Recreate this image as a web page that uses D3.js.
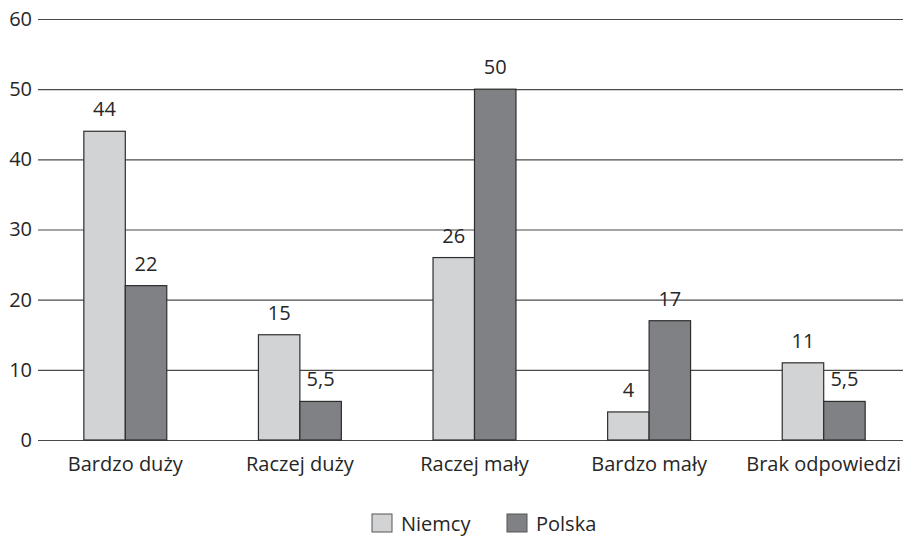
<!DOCTYPE html>
<html>
<head>
<meta charset="utf-8">
<script src="https://cdn.jsdelivr.net/npm/d3@7"></script>
<style>
  html, body { margin: 0; padding: 0; background: #fff; }
  svg { display: block; font-family: "Open Sans", "DejaVu Sans", sans-serif; }
</style>
</head>
<body>
<svg id="chart" width="903" height="537"></svg>
<script>
// Survey answers by category, two countries
const categories = ["Bardzo duży", "Raczej duży", "Raczej mały", "Bardzo mały", "Brak odpowiedzi"];
const seriesNames = ["Niemcy", "Polska"];
const niemcy = [44, 15, 26, 4, 11];
const polska = [22, 5.5, 50, 17, 5.5];
const yTicks = [0, 10, 20, 30, 40, 50, 60];

const colors = { "Niemcy": "#d2d3d5", "Polska": "#808185" };
const fmt = v => String(v).replace(".", ",");
const FS = 20;
const TXT = "#262626";

const svg = d3.select("#chart");
const plot = { left: 38, right: 911, top: 19, bottom: 440 };

const y = d3.scaleLinear().domain([0, 60]).range([plot.bottom, plot.top]);
const x0 = d3.scaleBand().domain(categories).range([plot.left, plot.right])
  .paddingInner(0.525).paddingOuter(0.2625);
const x1 = d3.scaleBand().domain(seriesNames).range([0, x0.bandwidth()]);

// horizontal gridlines + y labels
const yAxis = d3.axisLeft(y).tickValues(yTicks).tickSize(-(plot.right - plot.left)).tickPadding(6);
const gy = svg.append("g").attr("transform", `translate(${plot.left},0)`).call(yAxis);
gy.select(".domain").remove();
gy.selectAll(".tick line").attr("stroke", "#4a4a4a").attr("stroke-width", 1.2);
gy.selectAll(".tick text").attr("fill", TXT).attr("font-size", FS)
  .attr("font-family", "'Open Sans', sans-serif");

// bars
const rows = categories.map((c, i) => ({ cat: c, vals: [
  { s: "Niemcy", v: niemcy[i] }, { s: "Polska", v: polska[i] } ] }));

const groups = svg.append("g").selectAll("g").data(rows).join("g")
  .attr("transform", d => `translate(${x0(d.cat)},0)`);

groups.selectAll("rect").data(d => d.vals).join("rect")
  .attr("x", d => x1(d.s))
  .attr("y", d => y(d.v))
  .attr("width", x1.bandwidth())
  .attr("height", d => y(0) - y(d.v))
  .attr("fill", d => colors[d.s])
  .attr("stroke", "#2e2e2e")
  .attr("stroke-width", 1.2);

groups.selectAll("text").data(d => d.vals).join("text")
  .attr("x", d => x1(d.s) + x1.bandwidth() / 2)
  .attr("y", d => y(d.v) - 15)
  .attr("text-anchor", "middle")
  .attr("font-size", FS)
  .attr("fill", TXT)
  .text(d => fmt(d.v));

// category labels
const xAxis = d3.axisBottom(x0).tickSize(0).tickPadding(17);
const gx = svg.append("g").attr("transform", `translate(0,${plot.bottom})`).call(xAxis);
gx.select(".domain").remove();
gx.selectAll(".tick text").attr("fill", TXT).attr("font-size", FS)
  .attr("font-family", "'Open Sans', sans-serif");

// legend
const legend = svg.append("g");
const legendX = [372, 507];
seriesNames.forEach((s, i) => {
  const g = legend.append("g").attr("transform", `translate(${legendX[i]},514)`);
  g.append("rect").attr("width", 20).attr("height", 18)
    .attr("fill", colors[s]).attr("stroke", "#555").attr("stroke-width", 1);
  g.append("text").attr("x", 29).attr("y", 17).attr("font-size", FS)
    .attr("fill", TXT).text(s);
});
</script>
</body>
</html>
